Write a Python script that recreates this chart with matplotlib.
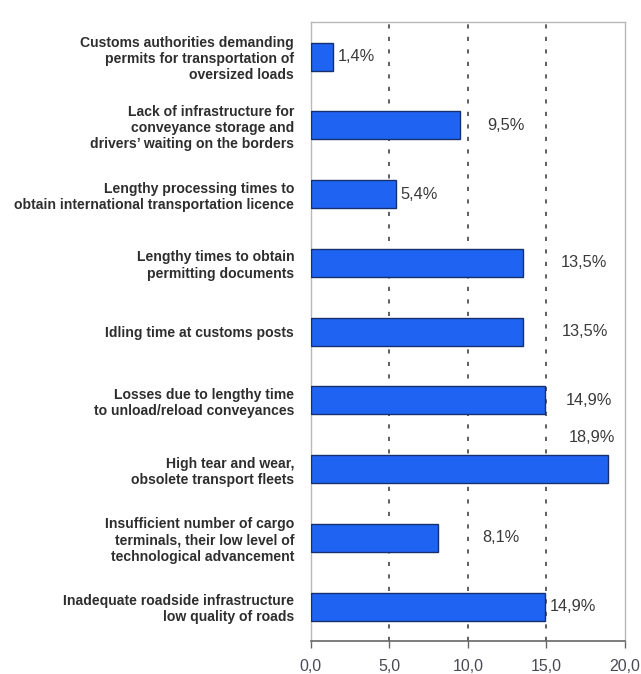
import numpy as np
import matplotlib
matplotlib.use('Agg')
import matplotlib.pyplot as plt

plt.rcParams['font.family'] = ['Liberation Sans', 'DejaVu Sans']

# Survey answers (share of respondents, %), top to bottom
categories = [
    'Customs authorities demanding\npermits for transportation of\noversized loads',
    'Lack of infrastructure for\nconveyance storage and\ndrivers\u2019 waiting on the borders',
    'Lengthy processing times to\nobtain international transportation licence',
    'Lengthy times to obtain\npermitting documents',
    'Idling time at customs posts',
    'Losses due to lengthy time\nto unload/reload conveyances',
    'High tear and wear,\nobsolete transport fleets',
    'Insufficient number of cargo\nterminals, their low level of\ntechnological advancement',
    'Inadequate roadside infrastructure\nlow quality of roads',
]
values = [1.4, 9.5, 5.4, 13.5, 13.5, 14.9, 18.9, 8.1, 14.9]
value_labels = ['1,4%', '9,5%', '5,4%', '13,5%', '13,5%', '14,9%', '18,9%', '8,1%', '14,9%']
x_ticks = [0, 5, 10, 15, 20]
x_tick_labels = ['0,0', '5,0', '10,0', '15,0', '20,0']

# where each value label sits (x in data units, y shift in bar slots)
label_x = [1.7, 11.2, 5.7, 15.9, 16.0, 16.2, 16.4, 10.9, 15.2]
label_dy = [0, 0, 0, 0, 0, 0, -0.46, 0, 0]

fig = plt.figure(figsize=(6.41, 6.74), dpi=100)
ax = fig.add_axes([0.485, 0.049, 0.49, 0.918])

y = np.arange(len(values))
ax.barh(y, values, height=0.41, color='#1f63f2', edgecolor='#16306e', linewidth=1.0, zorder=3)

for xi, yi, dy, txt in zip(label_x, y, label_dy, value_labels):
    ax.text(xi, yi + dy, txt, ha='left', va='center', fontsize=11.8,
            color='#3a3a3a', zorder=4)

ax.set_xlim(0, 20)
ax.set_ylim(len(values) - 0.5, -0.5)

ax.set_xticks(x_ticks)
ax.set_xticklabels(x_tick_labels, fontsize=11.5, color='#4a4a55')
ax.set_yticks(y)
ax.set_yticklabels(categories, fontsize=10.1, fontweight='bold', color='#2e2e2e',
                   linespacing=1.2)
ax.tick_params(axis='y', length=0, pad=12)
ax.tick_params(axis='x', length=5, width=1, color='#666666', pad=8, direction='out')

# dashed vertical grid
for xv in x_ticks[1:-1]:
    ax.axvline(xv, color='#444444', linestyle=(0, (2.5, 5)), linewidth=1.2, zorder=1)

for side in ['top', 'left', 'right']:
    ax.spines[side].set_color('#b8b8b8')
    ax.spines[side].set_linewidth(1.0)
ax.spines['bottom'].set_color('#666666')
ax.spines['bottom'].set_linewidth(1.2)

fig.savefig('out.png', dpi=100)
